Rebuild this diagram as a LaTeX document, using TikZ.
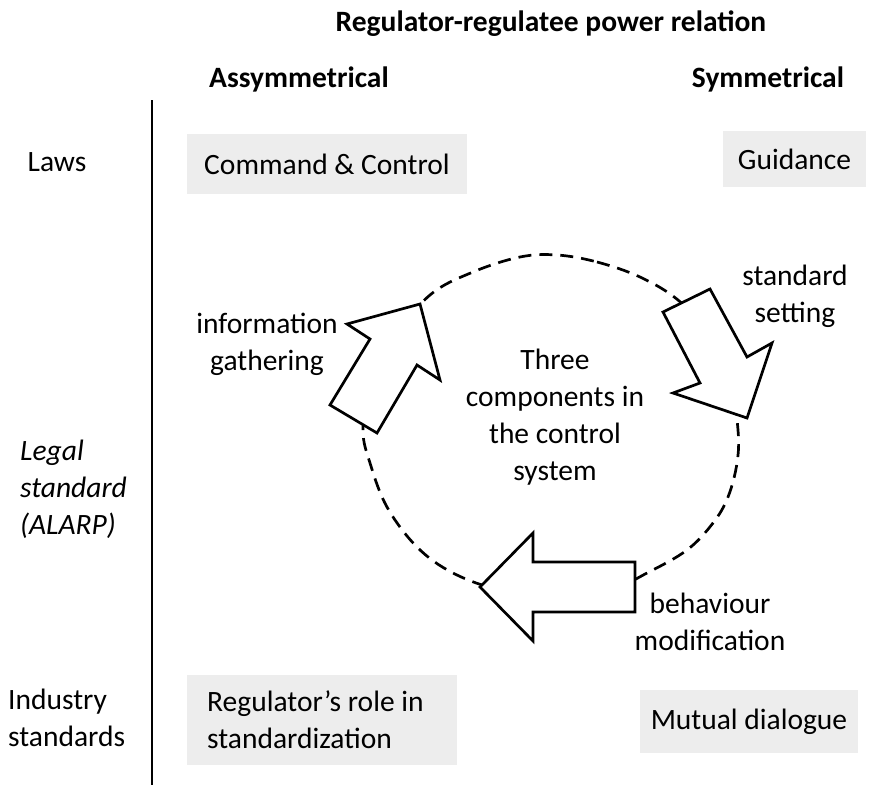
\documentclass[tikz,border=0pt]{standalone}
\usepackage{fontspec}
\setmainfont{Carlito}
\begin{document}
\begin{tikzpicture}[x=1pt,y=-1pt,
  txt/.style={inner sep=0pt,font=\fontsize{29.5}{37}\selectfont},
  head/.style={txt,font=\fontsize{29.5}{37}\selectfont\bfseries},
  cell/.style={fill=black!7,inner sep=0pt,font=\fontsize{29.5}{37}\selectfont},
  ring/.style={line width=2.7pt,dash pattern=on 13pt off 8pt},
  blockarrow/.style={draw,fill=white,line width=2.7pt,line join=miter}]
\useasboundingbox (0,0) rectangle (873,785);

% headings
\node[head] (title) at (551,24) {Regulator-regulatee power relation};
\node[head] (asym) at (299,79) {Assymmetrical};
\node[head] (sym) at (768,79) {Symmetrical};

% row labels and divider
\node[txt] (laws) at (57,162) {Laws};
\node[txt,align=left,anchor=west,font=\fontsize{29.5}{37}\selectfont\itshape] (legal) at (20,489) {Legal\\standard\\(ALARP)};
\node[txt,align=left,anchor=west] (industry) at (8,718) {Industry\\standards};
\coordinate (divtop) at (152,100);
\coordinate (divbot) at (152,785);
\draw[line width=2.4pt] (divtop) -- (divbot);

% shaded cells
\node[cell,minimum width=280pt,minimum height=60pt] (cc) at (327,164) {Command \& Control};
\node[cell,minimum width=143pt,minimum height=56pt] (guid) at (794.5,159) {Guidance};
\node[cell,minimum width=270pt,minimum height=90pt] (role) at (322,720) {};
\node[txt,align=left,anchor=west] (roletext) at (207,720) {Regulator’s role in\\standardization};
\node[cell,minimum width=218pt,minimum height=63pt] (mutual) at (749,721.5) {Mutual dialogue};

% control loop
\draw[ring] plot[smooth cycle,tension=0.6] coordinates {
  (557,255) (597,262) (640,277) (678,300) (710,335) (730,380) (738,430)
  (737,463) (728,497) (713,523) (687,550) (647,573) (610,590) (555,597)
  (500,590) (453,573) (417,547) (387,507) (370,463) (363,430) (370,385)
  (392,340) (430,295) (473,272) (520,257)};

\draw[blockarrow] (420,304) -- (440,380) -- (417,365) -- (377,433) -- (330,405)
  -- (370,339) -- (347,324) -- cycle;
\draw[blockarrow] (663,312) -- (710,289) -- (747,357) -- (772,343) -- (747,418)
  -- (673,393) -- (700,383) -- cycle;
\draw[blockarrow] (480,587) -- (533,533) -- (533,562) -- (635,562) -- (635,612)
  -- (533,612) -- (533,641) -- cycle;

% loop labels
\node[txt,align=center] (info) at (267,344) {information\\gathering};
\node[txt,align=center] (setting) at (795,296) {standard\\setting};
\node[txt,align=center] (behav) at (710,622) {behaviour\\modification};
\node[txt,align=center] (centre) at (555,417) {Three\\components in\\the control\\system};
\end{tikzpicture}
\end{document}
